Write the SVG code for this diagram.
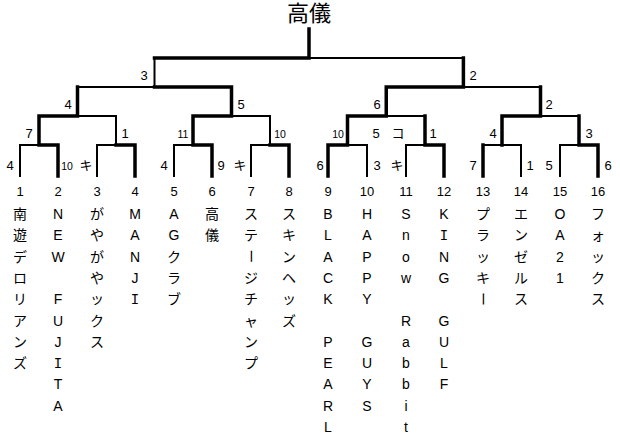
<svg xmlns="http://www.w3.org/2000/svg" width="620" height="435" viewBox="0 0 620 435">
<style>
text{font-family:"Liberation Sans","Noto Sans CJK JP",sans-serif;fill:#000;text-anchor:middle}
.thick{fill:none;stroke:#000;stroke-width:3.5;stroke-linecap:square}
.thin{fill:none;stroke:#000;stroke-width:2;stroke-linecap:square}
.title{font-size:22px}
.no{font-size:13px}
.sc{font-size:13px}
.sm{font-size:10.5px}
.name{font-size:14px}
.si{font-family:"Liberation Mono",monospace}
</style>
<rect width="620" height="435" fill="#fff"/>
<g id="connectors">
<path class="thin" d="M20 145V176M97 145V176M174 145V176M251 145V176M367 145V176M406 145V176M521 145V176M560 145V176M20 145H39M97 145H116M174 145H193M251 145H270M347.5 145H367M406 145H425M483 145H521M560 145H579M116 116V145M270 116V145M77.5 116H116M231.5 116H270M386.25 116H425M540.5 116H579M77.5 87H154.5M463.4 87H540.5M154.5 58V87M309 58H463.4"/>
<path class="thick" d="M58 145V176M135 145V176M212 145V176M289 145V176M328 145V176M444 145V176M483 145V176M598 145V176M39 145H58M116 145H135M193 145H212M270 145H289M328 145H347.5M425 145H444M579 145H598M39 116V145M193 116V145M347.5 116V145M425 116V145M502 116V145M579 116V145M39 116H77.5M193 116H231.5M347.5 116H386.25M502 116H540.5M77.5 87V116M231.5 87V116M386.25 87V116M540.5 87V116M154.5 87H231.5M386.25 87H463.4M463.4 58V87M154.5 58H309M309 29V58"/>
</g>
<g id="champion"><text class="title" x="309" y="21">高儀</text></g>
<g id="scores">
<text class="sc" x="10" y="170">4</text>
<text class="sm" x="67" y="170">10</text>
<text class="sc" x="86" y="170">キ</text>
<text class="sc" x="164" y="170">4</text>
<text class="sc" x="221" y="170">9</text>
<text class="sc" x="240" y="170">キ</text>
<text class="sc" x="320" y="170">6</text>
<text class="sc" x="377" y="170">3</text>
<text class="sc" x="397" y="170">キ</text>
<text class="sc" x="473" y="170">7</text>
<text class="sc" x="530" y="170">1</text>
<text class="sc" x="549" y="170">5</text>
<text class="sc" x="608" y="170">6</text>
<text class="sc" x="29" y="138">7</text>
<text class="sc" x="125" y="138">1</text>
<text class="sm" x="183" y="138">11</text>
<text class="sm" x="280" y="138">10</text>
<text class="sm" x="338" y="138">10</text>
<text class="sc" x="376" y="138">5</text>
<text class="sc" x="398" y="138">コ</text>
<text class="sc" x="433" y="138">1</text>
<text class="sc" x="493" y="138">4</text>
<text class="sc" x="589" y="138">3</text>
<text class="sc" x="68" y="109">4</text>
<text class="sc" x="241" y="109">5</text>
<text class="sc" x="377" y="109">6</text>
<text class="sc" x="549" y="109">2</text>
<text class="sc" x="144" y="80">3</text>
<text class="sc" x="473" y="80">2</text>
</g>
<g id="team-1"><text class="no" x="20" y="196">1</text><text class="name"><tspan x="20" y="219">南</tspan><tspan x="20" y="240.3">遊</tspan><tspan x="20" y="261.6">デ</tspan><tspan x="20" y="282.9">ロ</tspan><tspan x="20" y="304.2">リ</tspan><tspan x="20" y="325.5">ア</tspan><tspan x="20" y="346.8">ン</tspan><tspan x="20" y="368.1">ズ</tspan></text></g>
<g id="team-2"><text class="no" x="58" y="196">2</text><text class="name"><tspan x="58" y="219">N</tspan><tspan x="58" y="240.3">E</tspan><tspan x="58" y="261.6">W</tspan><tspan x="58" y="282.9"> </tspan><tspan x="58" y="304.2">F</tspan><tspan x="58" y="325.5">U</tspan><tspan x="58" y="346.8">J</tspan><tspan class="si" x="58" y="368.1">I</tspan><tspan x="58" y="389.4">T</tspan><tspan x="58" y="410.7">A</tspan></text></g>
<g id="team-3"><text class="no" x="97" y="196">3</text><text class="name"><tspan x="97" y="219">が</tspan><tspan x="97" y="240.3">や</tspan><tspan x="97" y="261.6">が</tspan><tspan x="97" y="282.9">や</tspan><tspan x="97" y="304.2">ッ</tspan><tspan x="97" y="325.5">ク</tspan><tspan x="97" y="346.8">ス</tspan></text></g>
<g id="team-4"><text class="no" x="135" y="196">4</text><text class="name"><tspan x="135" y="219">M</tspan><tspan x="135" y="240.3">A</tspan><tspan x="135" y="261.6">N</tspan><tspan x="135" y="282.9">J</tspan><tspan class="si" x="135" y="304.2">I</tspan></text></g>
<g id="team-5"><text class="no" x="174" y="196">5</text><text class="name"><tspan x="174" y="219">A</tspan><tspan x="174" y="240.3">G</tspan><tspan x="174" y="261.6">ク</tspan><tspan x="174" y="282.9">ラ</tspan><tspan x="174" y="304.2">ブ</tspan></text></g>
<g id="team-6"><text class="no" x="212" y="196">6</text><text class="name"><tspan x="212" y="219">高</tspan><tspan x="212" y="240.3">儀</tspan></text></g>
<g id="team-7"><text class="no" x="251" y="196">7</text><text class="name"><tspan x="251" y="219">ス</tspan><tspan x="251" y="240.3">テ</tspan><tspan x="252.7" y="249.3" rotate="90">ー</tspan><tspan x="251" y="282.9">ジ</tspan><tspan x="251" y="304.2">チ</tspan><tspan x="251" y="325.5">ャ</tspan><tspan x="251" y="346.8">ン</tspan><tspan x="251" y="368.1">プ</tspan></text></g>
<g id="team-8"><text class="no" x="289" y="196">8</text><text class="name"><tspan x="289" y="219">ス</tspan><tspan x="289" y="240.3">キ</tspan><tspan x="289" y="261.6">ン</tspan><tspan x="289" y="282.9">ヘ</tspan><tspan x="289" y="304.2">ッ</tspan><tspan x="289" y="325.5">ズ</tspan></text></g>
<g id="team-9"><text class="no" x="328" y="196">9</text><text class="name"><tspan x="328" y="219">B</tspan><tspan x="328" y="240.3">L</tspan><tspan x="328" y="261.6">A</tspan><tspan x="328" y="282.9">C</tspan><tspan x="328" y="304.2">K</tspan><tspan x="328" y="325.5"> </tspan><tspan x="328" y="346.8">P</tspan><tspan x="328" y="368.1">E</tspan><tspan x="328" y="389.4">A</tspan><tspan x="328" y="410.7">R</tspan><tspan x="328" y="432">L</tspan></text></g>
<g id="team-10"><text class="no" x="367" y="196">10</text><text class="name"><tspan x="367" y="219">H</tspan><tspan x="367" y="240.3">A</tspan><tspan x="367" y="261.6">P</tspan><tspan x="367" y="282.9">P</tspan><tspan x="367" y="304.2">Y</tspan><tspan x="367" y="325.5"> </tspan><tspan x="367" y="346.8">G</tspan><tspan x="367" y="368.1">U</tspan><tspan x="367" y="389.4">Y</tspan><tspan x="367" y="410.7">S</tspan></text></g>
<g id="team-11"><text class="no" x="406" y="196">11</text><text class="name"><tspan x="406" y="219">S</tspan><tspan x="406" y="240.3">n</tspan><tspan x="406" y="261.6">o</tspan><tspan x="406" y="282.9">w</tspan><tspan x="406" y="304.2"> </tspan><tspan x="406" y="325.5">R</tspan><tspan x="406" y="346.8">a</tspan><tspan x="406" y="368.1">b</tspan><tspan x="406" y="389.4">b</tspan><tspan x="406" y="410.7">i</tspan><tspan x="406" y="432">t</tspan></text></g>
<g id="team-12"><text class="no" x="444" y="196">12</text><text class="name"><tspan x="444" y="219">K</tspan><tspan class="si" x="444" y="240.3">I</tspan><tspan x="444" y="261.6">N</tspan><tspan x="444" y="282.9">G</tspan><tspan x="444" y="304.2"> </tspan><tspan x="444" y="325.5">G</tspan><tspan x="444" y="346.8">U</tspan><tspan x="444" y="368.1">L</tspan><tspan x="444" y="389.4">F</tspan></text></g>
<g id="team-13"><text class="no" x="483" y="196">13</text><text class="name"><tspan x="483" y="219">プ</tspan><tspan x="483" y="240.3">ラ</tspan><tspan x="483" y="261.6">ッ</tspan><tspan x="483" y="282.9">キ</tspan><tspan x="484.7" y="291.9" rotate="90">ー</tspan></text></g>
<g id="team-14"><text class="no" x="521" y="196">14</text><text class="name"><tspan x="521" y="219">エ</tspan><tspan x="521" y="240.3">ン</tspan><tspan x="521" y="261.6">ゼ</tspan><tspan x="521" y="282.9">ル</tspan><tspan x="521" y="304.2">ス</tspan></text></g>
<g id="team-15"><text class="no" x="560" y="196">15</text><text class="name"><tspan x="560" y="219">O</tspan><tspan x="560" y="240.3">A</tspan><tspan x="560" y="261.6">2</tspan><tspan x="560" y="282.9">1</tspan></text></g>
<g id="team-16"><text class="no" x="598" y="196">16</text><text class="name"><tspan x="598" y="219">フ</tspan><tspan x="598" y="240.3">ォ</tspan><tspan x="598" y="261.6">ッ</tspan><tspan x="598" y="282.9">ク</tspan><tspan x="598" y="304.2">ス</tspan></text></g>
</svg>
